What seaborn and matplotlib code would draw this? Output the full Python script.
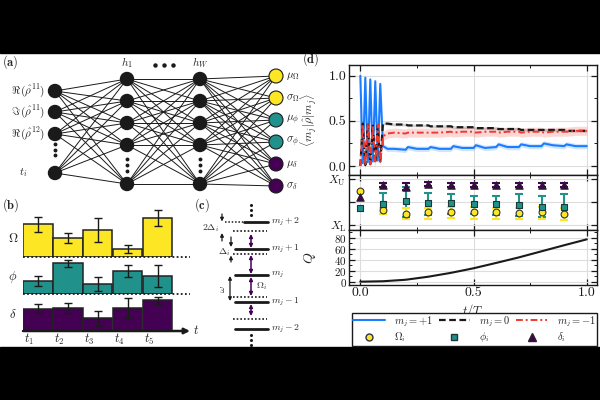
import numpy as np
import pandas as pd
import seaborn as sns
import matplotlib
matplotlib.use("Agg")
import matplotlib.pyplot as plt
from matplotlib.patches import Circle, Rectangle
from matplotlib.lines import Line2D
from matplotlib.ticker import MultipleLocator

# ---- panel (b): bar heights (arbitrary units) ----
steps = ['t1', 't2', 't3', 't4', 't5']
omega_bar = [0.97, 0.55, 0.80, 0.22, 1.17]
omega_bar_err = [0.23, 0.15, 0.35, 0.12, 0.24]
phi_bar = [0.40, 0.92, 0.30, 0.69, 0.53]
phi_bar_err = [0.15, 0.10, 0.20, 0.18, 0.33]
delta_bar = [0.67, 0.70, 0.38, 0.70, 0.92]
delta_bar_err = [0.13, 0.15, 0.23, 0.30, 0.10]

# ---- panel (d): populations ----
t_pop = [0, 0.011, 0.022, 0.033, 0.044, 0.055, 0.066, 0.077, 0.088, 0.1,
         0.12, 0.15, 0.2, 0.21, 0.25, 0.3, 0.31, 0.35, 0.4, 0.41, 0.45, 0.5, 0.51,
         0.55, 0.6, 0.61, 0.65, 0.7, 0.71, 0.75, 0.8, 0.81, 0.85, 0.9, 0.91, 0.95, 1.0]
pop_plus = [1.0, 0.03, 0.98, 0.04, 0.96, 0.05, 0.94, 0.06, 0.91, 0.22,
            0.19, 0.19, 0.18, 0.21, 0.19, 0.19, 0.21, 0.19, 0.19, 0.22, 0.2, 0.2, 0.23,
            0.2, 0.21, 0.24, 0.21, 0.21, 0.24, 0.22, 0.22, 0.25, 0.23, 0.22, 0.24, 0.22, 0.22]
pop_zero = [0.0, 0.47, 0.01, 0.46, 0.02, 0.46, 0.03, 0.45, 0.05, 0.47,
            0.47, 0.46, 0.46, 0.45, 0.45, 0.45, 0.44, 0.44, 0.44, 0.43, 0.43, 0.43, 0.42,
            0.42, 0.42, 0.41, 0.41, 0.41, 0.4, 0.4, 0.4, 0.4, 0.4, 0.4, 0.39, 0.39, 0.39]
pop_minus = [0.0, 0.46, 0.01, 0.47, 0.02, 0.45, 0.03, 0.46, 0.04, 0.33,
             0.36, 0.37, 0.36, 0.37, 0.37, 0.37, 0.37, 0.37, 0.38, 0.37, 0.38, 0.38, 0.37,
             0.38, 0.38, 0.37, 0.38, 0.38, 0.37, 0.38, 0.38, 0.37, 0.38, 0.38, 0.38, 0.39, 0.39]
band_plus, band_zero, band_minus = 0.03, 0.015, 0.05

# ---- panel (d): control parameters, X_L = 0, X_U = 1 ----
t_ctrl = [0.0, 0.1, 0.2, 0.3, 0.4, 0.5, 0.6, 0.7, 0.8, 0.9]
omega_ctrl = [0.74, 0.33, 0.25, 0.28, 0.29, 0.28, 0.28, 0.27, 0.28, 0.25]
phi_ctrl = [0.38, 0.45, 0.52, 0.47, 0.47, 0.45, 0.46, 0.44, 0.40, 0.40]
delta_ctrl = [0.60, 0.87, 0.83, 0.89, 0.87, 0.87, 0.87, 0.87, 0.87, 0.87]
# error ranges for t = 0.1 ... 0.9 (none at t = 0)
omega_lo = [0.25, 0.12, 0.14, 0.16, 0.12, 0.14, 0.14, 0.14, 0.11]
omega_hi = [0.38, 0.36, 0.36, 0.40, 0.40, 0.38, 0.38, 0.40, 0.38]
phi_lo = [0.24, 0.18, 0.22, 0.23, 0.23, 0.22, 0.20, 0.18, 0.11]
phi_hi = [0.69, 0.83, 0.69, 0.68, 0.63, 0.64, 0.67, 0.64, 0.67]
delta_lo = [0.83, 0.77, 0.85, 0.83, 0.83, 0.83, 0.83, 0.83, 0.83]
delta_hi = [0.91, 0.92, 0.93, 0.91, 0.91, 0.91, 0.91, 0.91, 0.91]

# ---- panel (d): cost Q ----
t_q = [0.0, 0.1, 0.2, 0.3, 0.4, 0.5, 0.6, 0.7, 0.8, 0.9, 1.0]
q_vals = [0.0, 0.8, 3.5, 9.0, 16.0, 24.3, 34.0, 44.0, 55.0, 66.0, 76.7]

YEL, TEAL, PURP = '#fde725', '#21918c', '#440154'
BLUE, RED = '#1a7dff', '#ee3a30'
DASH0 = (0, (3, 1.6))
DASHM = (0, (3.5, 1.5, 1, 1.5))

sns.set_theme(style='ticks')
plt.rcParams['font.family'] = ['cmr10', 'DejaVu Serif']
plt.rcParams['mathtext.fontset'] = 'cm'
plt.rcParams['axes.formatter.use_mathtext'] = True

fig = plt.figure(figsize=(6, 4), dpi=100)


def px(x0, y0, x1, y1):
    return [x0 / 600, 1 - y1 / 400, (x1 - x0) / 600, (y1 - y0) / 400]


bg = fig.add_axes([0, 0, 1, 1])
bg.set_xlim(0, 600)
bg.set_ylim(400, 0)
bg.axis('off')
bg.add_patch(Rectangle((0, 0), 600, 53, color='black'))
bg.add_patch(Rectangle((0, 347), 600, 53, color='black'))

# panel labels
for x, y, s in [(2, 62, '(a)'), (2, 205, '(b)'), (194, 205, '(c)'), (302, 59, '(d)')]:
    bg.text(x, y, r'$\mathbf{' + s + '}$', ha='left', va='center', fontsize=9)

# ---------------- (a) network ----------------
in_x, h1_x, hw_x, out_x = 55, 127, 200, 276
in_y = [91, 112, 134, 173]
hid_y = [79, 101, 123, 145, 184]
out_y = [76, 98, 120, 142, 164, 186]
out_col = [YEL, YEL, TEAL, TEAL, PURP, PURP]
for a in in_y:
    for b in hid_y:
        bg.plot([in_x, h1_x], [a, b], color='k', lw=0.7)
for a in hid_y:
    for b in hid_y:
        bg.plot([h1_x, hw_x], [a, b], color='k', lw=0.7)
    for b in out_y:
        bg.plot([hw_x, out_x], [a, b], color='k', lw=0.7)
for y in in_y:
    bg.add_patch(Circle((in_x, y), 6.5, fc='k', ec='k', zorder=3))
for x in (h1_x, hw_x):
    for y in hid_y:
        bg.add_patch(Circle((x, y), 6.5, fc='k', ec='k', zorder=3))
for y, c in zip(out_y, out_col):
    bg.add_patch(Circle((out_x, y), 7, fc=c, ec='k', lw=0.8, zorder=3))
bg.plot([in_x] * 3, [144, 149.5, 155], 'ko', ms=1.8)
for x in (h1_x, hw_x):
    bg.plot([x] * 3, [159, 165, 171], 'ko', ms=1.8)
bg.plot([155, 164, 173], [65, 65, 65], 'ko', ms=2.2)
bg.text(h1_x, 63, r'$h_1$', ha='center', va='center', fontsize=8)
bg.text(hw_x, 63, r'$h_W$', ha='center', va='center', fontsize=8)
in_lab = [r'$\Re\,(\hat{\rho}^{11})$', r'$\Im\,(\hat{\rho}^{11})$', r'$\Re\,(\hat{\rho}^{12})$', r'$t_i$']
for y, s, x in zip(in_y, in_lab, [45, 45, 45, 27]):
    bg.text(x, y, s, ha='right', va='center', fontsize=8)
out_lab = [r'$\mu_\Omega$', r'$\sigma_\Omega$', r'$\mu_\phi$', r'$\sigma_\phi$', r'$\mu_\delta$', r'$\sigma_\delta$']
for y, s in zip(out_y, out_lab):
    bg.text(286, y, s, ha='left', va='center', fontsize=8)

# ---------------- (b) bars ----------------
unit = 33.3
rows = [(omega_bar, omega_bar_err, YEL, 210, 256.7, r'$\Omega$', 239),
        (phi_bar, phi_bar_err, TEAL, 256.7, 294, r'$\phi$', 277),
        (delta_bar, delta_bar_err, PURP, 294, 331, r'$\delta$', 314)]
for k, (vals, errs, col, top, base, lab, ly) in enumerate(rows):
    ax = fig.add_axes(px(23, top, 190, base))
    ax.patch.set_alpha(0)
    df = pd.DataFrame({'step': steps, 'val': vals})
    sns.barplot(data=df, x='step', y='val', color=col, saturation=1, width=0.97,
                edgecolor='#222222', linewidth=1.1, errorbar=None, ax=ax)
    ax.errorbar(range(5), vals, yerr=errs, fmt='none', ecolor='k', elinewidth=1,
                capsize=3, capthick=1, clip_on=False, zorder=4)
    ax.set_xlim(-0.5, 5.07)
    ax.set_ylim(0, (base - top) / unit)
    for s in ax.spines.values():
        s.set_visible(False)
    ax.set_xticks([])
    ax.set_yticks([])
    ax.set_xlabel('')
    ax.set_ylabel('')
    if k < 2:
        ax.axhline(0, color='k', ls=(0, (1, 1.3)), lw=1.3, clip_on=False)
    else:
        ax.annotate('', xy=(1.0, 0), xytext=(0, 0), xycoords='axes fraction',
                    arrowprops=dict(arrowstyle='-|>', color='k', lw=1.8, mutation_scale=8,
                                    shrinkA=0, shrinkB=0))
        for i in range(5):
            ax.text(i - 0.48, -0.25, r'$t_{%d}$' % (i + 1), ha='left', va='center', fontsize=9)
    bg.text(13, ly, lab, ha='center', va='center', fontsize=9)
bg.text(193, 330, r'$t$', ha='left', va='center', fontsize=9)

# ---------------- (c) levels ----------------
dot = (0, (1, 1.2))
levels = [(222, r'$m_j+2$', 244), (248.7, r'$m_j+1$', 235), (275.3, r'$m_j$', 235),
          (302, r'$m_j-1$', 235), (328.7, r'$m_j-2$', 235)]
for y, s, x0 in levels:
    bg.plot([x0, 268], [y, y], color='k', lw=2)
    bg.text(271, y, s, ha='left', va='center', fontsize=7)
bg.plot([225, 243], [222, 222], color='k', ls=dot, lw=1.1)
for y in [231.3, 254, 297, 318.7]:
    bg.plot([233, 267], [y, y], color='k', ls=dot, lw=1.2)
for y0, y1 in [(234, 248), (255, 274), (277, 296), (304, 316)]:
    bg.annotate('', xy=(251, y1), xytext=(251, y0),
                arrowprops=dict(arrowstyle='<|-|>', color=PURP, lw=1.1, mutation_scale=5,
                                shrinkA=0, shrinkB=0))
bg.annotate('', xy=(230, 301), xytext=(230, 276),
            arrowprops=dict(arrowstyle='<|-|>', color='k', lw=0.9, mutation_scale=5, shrinkA=0, shrinkB=0))
for x, y0, y1 in [(222, 214, 221.5), (222, 241, 233), (231, 237, 247), (231, 262, 255.5)]:
    bg.annotate('', xy=(x, y1), xytext=(x, y0),
                arrowprops=dict(arrowstyle='-|>', color='k', lw=0.9, mutation_scale=5, shrinkA=0, shrinkB=0))
bg.text(202, 228, r'$2\Delta_i$', ha='left', va='center', fontsize=7)
bg.text(218, 252, r'$\Delta_i$', ha='left', va='center', fontsize=7)
bg.text(223, 289, r'$\omega$', ha='center', va='center', fontsize=7, rotation=90)
bg.text(256, 286, r'$\Omega_i$', ha='left', va='center', fontsize=7)
bg.plot([251] * 3, [205, 210, 215], 'ko', ms=1.2)
bg.plot([251] * 3, [335, 340, 345], 'ko', ms=1.2)

# ---------------- (d) ----------------
ax1 = fig.add_axes(px(349, 65, 597, 175))
ax2 = fig.add_axes(px(349, 175, 597, 230))
ax3 = fig.add_axes(px(349, 230, 597, 285))

pop = pd.DataFrame({'t': t_pop, 'plus': pop_plus, 'zero': pop_zero, 'minus': pop_minus})
for col, c, w in [('plus', BLUE, band_plus), ('zero', 'k', band_zero), ('minus', RED, band_minus)]:
    ax1.fill_between(pop['t'], pop[col] - w, pop[col] + w, color=c, alpha=0.2, lw=0)
sns.lineplot(data=pop, x='t', y='plus', color=BLUE, lw=1.5, estimator=None, ax=ax1)
sns.lineplot(data=pop, x='t', y='zero', color='k', lw=1.6, ls=DASH0, estimator=None, ax=ax1)
sns.lineplot(data=pop, x='t', y='minus', color=RED, lw=1.4, ls=DASHM, estimator=None, ax=ax1)
ax1.set_ylim(-0.1, 1.12)
ax1.set_yticks([0, 0.5, 1.0])
ax1.set_yticklabels(['0.0', '0.5', '1.0'])
ax1.yaxis.set_minor_locator(MultipleLocator(0.25))
ax1.set_ylabel(r'$\langle m_j|\hat{\rho}|m_j\rangle$', fontsize=8.5)
ax1.yaxis.set_label_coords(-0.118, 0.5)

ctrl = pd.DataFrame({'t': t_ctrl, 'Om': omega_ctrl, 'ph': phi_ctrl, 'de': delta_ctrl})
sub = ctrl.iloc[1:]
for col, lo, hi, c in [('ph', phi_lo, phi_hi, TEAL), ('Om', omega_lo, omega_hi, YEL),
                       ('de', delta_lo, delta_hi, PURP)]:
    v = sub[col].to_numpy()
    ax2.errorbar(sub['t'], v, yerr=[v - np.array(lo), np.array(hi) - v], fmt='none', ecolor=c,
                 elinewidth=1.5, capsize=3, capthick=1.5, zorder=2)
sns.scatterplot(data=ctrl, x='t', y='Om', marker='o', color=YEL, edgecolor='#333333', linewidth=0.8,
                s=24, zorder=3, ax=ax2)
sns.scatterplot(data=ctrl, x='t', y='ph', marker='s', color=TEAL, edgecolor='#1a3a38', linewidth=0.8,
                s=24, zorder=3, ax=ax2)
sns.scatterplot(data=ctrl, x='t', y='de', marker='^', color=PURP, edgecolor='#222222', linewidth=0.8,
                s=28, zorder=3, ax=ax2)
ax2.set_ylim(-0.11, 1.09)
ax2.set_yticks([0, 0.5, 1.0])
ax2.set_yticklabels([r'$X_{\rm L}$', '', r'$X_{\rm U}$'])
ax2.set_ylabel('')

qdf = pd.DataFrame({'t': t_q, 'Q': q_vals})
sns.lineplot(data=qdf, x='t', y='Q', color='k', lw=1.5, ax=ax3)
ax3.set_ylim(-6, 93.6)
ax3.set_yticks([0, 20, 40, 60, 80])
ax3.yaxis.set_minor_locator(MultipleLocator(10))
ax3.set_ylabel(r'$Q$', fontsize=10)
ax3.yaxis.set_label_coords(-0.127, 0.5)
ax3.set_xlabel(r'$t/T$', fontsize=9)
ax3.xaxis.set_label_coords(0.5, -0.3)

for ax in (ax1, ax2, ax3):
    ax.set_xlim(-0.05, 1.045)
    ax.set_xticks([0, 0.5, 1.0])
    ax.xaxis.set_minor_locator(MultipleLocator(0.25))
    ax.grid(True, which='major', color='#dddddd', lw=0.8)
    ax.set_axisbelow(True)
    ax.tick_params(which='both', direction='in', top=True, right=True, colors='k',
                   labelsize=10, pad=2)
    ax.tick_params(which='major', length=4, width=0.9)
    ax.tick_params(which='minor', length=2, width=0.7)
    for s in ax.spines.values():
        s.set_color('k')
        s.set_linewidth(1.0)
    if ax is not ax3:
        ax.set_xlabel('')
        ax.tick_params(labelbottom=False)
ax3.set_xticklabels(['0.0', '0.5', '1.0'])
ax3.tick_params(axis='x', pad=1.5)
ax2.tick_params(axis='y', labelsize=8.5)
ax3.tick_params(axis='y', labelsize=8, pad=1.5)

handles = [Line2D([], [], color=BLUE, lw=1.5),
           Line2D([], [], marker='o', ls='none', mfc=YEL, mec='#333333', ms=5),
           Line2D([], [], color='k', lw=1.6, ls=DASH0),
           Line2D([], [], marker='s', ls='none', mfc=TEAL, mec='#1a3a38', ms=5),
           Line2D([], [], color=RED, lw=1.4, ls=DASHM),
           Line2D([], [], marker='^', ls='none', mfc=PURP, mec='#222222', ms=5.5)]
labels = [r'$m_j=+1$', r'$\Omega_i$', r'$m_j=0$', r'$\phi_i$', r'$m_j=-1$', r'$\delta_i$']
leg = fig.legend(handles, labels, ncol=3, loc='lower left', mode='expand',
                 bbox_to_anchor=(352 / 600, 1 - 345.5 / 400, 245 / 600, 29 / 400),
                 fontsize=7.5, handlelength=3.0, borderaxespad=0, fancybox=False,
                 edgecolor='k', framealpha=1, labelspacing=0.15, borderpad=0.12,
                 handletextpad=0.9, columnspacing=1.0)
leg.get_frame().set_linewidth(1.0)

fig.savefig('out.png', dpi=100, facecolor='white')
